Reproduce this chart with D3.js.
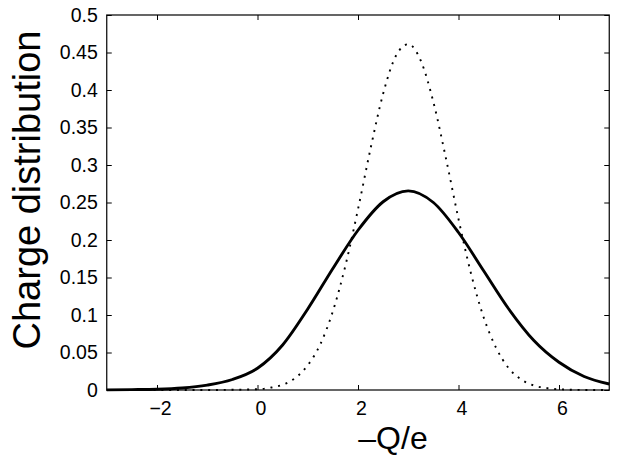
<!DOCTYPE html>
<html>
<head>
<meta charset="utf-8">
<script src="https://cdn.jsdelivr.net/npm/d3@7"></script>
<style>
  body { margin: 0; background: #fff; }
  svg { display: block; }
  .axis text { font-family: "Liberation Sans", Arial, sans-serif; font-size: 19.5px; fill: #000; }
  .axis line { stroke: #000; stroke-width: 1; }
  .axis path { display: none; }
</style>
</head>
<body>
<div class="chart"></div>
<script>
// values
var xTicks = [-2, 0, 2, 4, 6];
var yTicks = [0, 0.05, 0.1, 0.15, 0.2, 0.25, 0.3, 0.35, 0.4, 0.45, 0.5];

// solid curve
var solidX = [-3, -2.5, -2, -1.5, -1, -0.5, 0, 0.5, 1, 1.5, 2, 2.5, 3, 3.5, 4, 4.5, 5, 5.5, 6, 6.5, 7];
var solidY = [0.0002, 0.0005, 0.001, 0.0026, 0.0065, 0.014, 0.029, 0.060, 0.108, 0.162, 0.213, 0.251, 0.2655, 0.250, 0.210, 0.159, 0.108, 0.066, 0.037, 0.018, 0.008];

// dotted curve
var dotX = [-3, -2, -1, 0, 0.25, 0.5, 0.75, 1, 1.25, 1.5, 1.75, 2, 2.25, 2.5, 2.75, 3, 3.25, 3.5, 3.75, 4, 4.25, 4.5, 4.75, 5, 5.25, 5.5, 5.75, 6, 6.5, 7];
var dotY = [0, 0, 0, 0.001, 0.003, 0.007, 0.016, 0.033, 0.061, 0.105, 0.166, 0.241, 0.322, 0.395, 0.445, 0.461, 0.439, 0.384, 0.309, 0.228, 0.155, 0.097, 0.056, 0.029, 0.014, 0.006, 0.0026, 0.001, 0.0001, 0];

var svg = d3.select(".chart").append("svg").attr("width", 618).attr("height", 463),
    margin = {top: 15, right: 8.75, bottom: 73, left: 106.75},
    width  = +svg.attr("width")  - margin.left - margin.right,
    height = +svg.attr("height") - margin.top  - margin.bottom,
    x = d3.scaleLinear().domain([-3, 7]).range([0, width]),
    y = d3.scaleLinear().domain([0, 0.5]).range([height, 0]),
    g = svg.append("g").attr("transform", `translate(${margin.left},${margin.top})`);

var line = d3.line()
    .x(d => x(d[0]))
    .y(d => y(d[1]))
    .curve(d3.curveMonotoneX);

g.append("path")
    .datum(dotX.map((v, i) => [v, dotY[i]]))
    .attr("fill", "none")
    .attr("stroke", "#000")
    .attr("stroke-width", 1.9)
    .attr("stroke-dasharray", "2,5.8")
    .attr("d", line);

g.append("path")
    .datum(solidX.map((v, i) => [v, solidY[i]]))
    .attr("fill", "none")
    .attr("stroke", "#000")
    .attr("stroke-width", 2.9)
    .attr("d", line);

// axes, ticks pointing inwards
g.append("g")
    .attr("class", "axis")
    .attr("transform", `translate(0,${height})`)
    .call(d3.axisBottom(x).tickValues(xTicks).tickSize(-5).tickPadding(11)
        .tickFormat(d => d < 0 ? "\u2212" + Math.abs(d) : d))
    .selectAll("text").attr("dx", 3);

g.append("g")
    .attr("class", "axis")
    .call(d3.axisTop(x).tickValues(xTicks).tickSize(-5).tickFormat(""));

g.append("g")
    .attr("class", "axis")
    .call(d3.axisLeft(y).tickValues(yTicks).tickSize(-5).tickPadding(9).tickFormat(d3.format("~g")));

g.append("g")
    .attr("class", "axis")
    .attr("transform", `translate(${width},0)`)
    .call(d3.axisRight(y).tickValues(yTicks).tickSize(-5).tickFormat(""));

g.append("rect")
    .attr("width", width)
    .attr("height", height)
    .attr("fill", "none")
    .attr("stroke", "#000")
    .attr("stroke-width", 1.2);

svg.append("text")
    .attr("x", 393)
    .attr("y", 449)
    .attr("text-anchor", "middle")
    .style("font-family", "Liberation Sans, Arial, sans-serif")
    .style("font-size", "32px")
    .text("\u2013Q/e");

svg.append("text")
    .attr("transform", "translate(40,190) rotate(-90)")
    .attr("text-anchor", "middle")
    .style("font-family", "Liberation Sans, Arial, sans-serif")
    .style("font-size", "38px")
    .text("Charge distribution");
</script>
</body>
</html>
